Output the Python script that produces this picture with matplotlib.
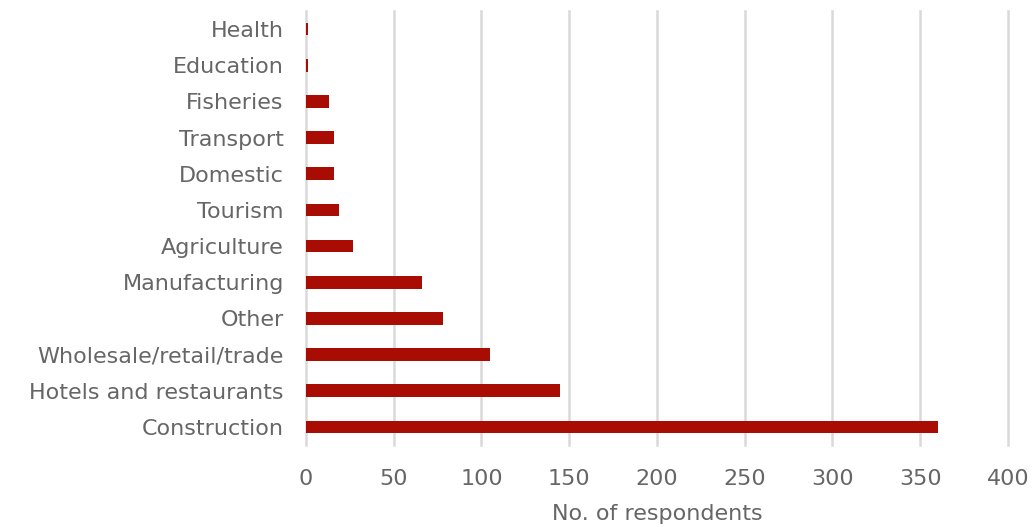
import matplotlib
matplotlib.use("Agg")
import matplotlib.pyplot as plt

# Respondents by sector of work
sectors = ["Construction", "Hotels and restaurants", "Wholesale/retail/trade", "Other",
           "Manufacturing", "Agriculture", "Tourism", "Domestic", "Transport",
           "Fisheries", "Education", "Health"]
respondents = [360, 145, 105, 78, 66, 27, 19, 16, 16, 13, 1, 1]
x_ticks = [0, 50, 100, 150, 200, 250, 300, 350, 400]

plt.rcParams["font.family"] = ["DejaVu Sans"]
text_color = "#666666"

fig = plt.figure(figsize=(10.32, 5.27), dpi=100)
ax = fig.add_axes([0.2965, 0.1556, 0.6802, 0.8234])

ax.barh(range(len(sectors)), respondents, height=0.35, color="#A80C03", zorder=3)

ax.set_xlim(0, 400)
ax.set_ylim(-0.5, len(sectors) - 0.5)
ax.set_xticks(x_ticks)
ax.set_xticklabels([str(t) for t in x_ticks])
ax.set_yticks(range(len(sectors)))
ax.set_yticklabels(sectors)

ax.grid(axis="x", color="#D9D9D9", linewidth=1.8, zorder=0)
for gl in ax.get_xgridlines():
    gl.set_clip_on(False)
for s in ax.spines.values():
    s.set_visible(False)
ax.tick_params(axis="both", length=0, labelsize=16, labelcolor=text_color)
ax.tick_params(axis="x", pad=17)
ax.tick_params(axis="y", pad=16)
ax.set_xlabel("No. of respondents", fontsize=16, color=text_color, labelpad=11)

fig.savefig("out.png", dpi=100)
